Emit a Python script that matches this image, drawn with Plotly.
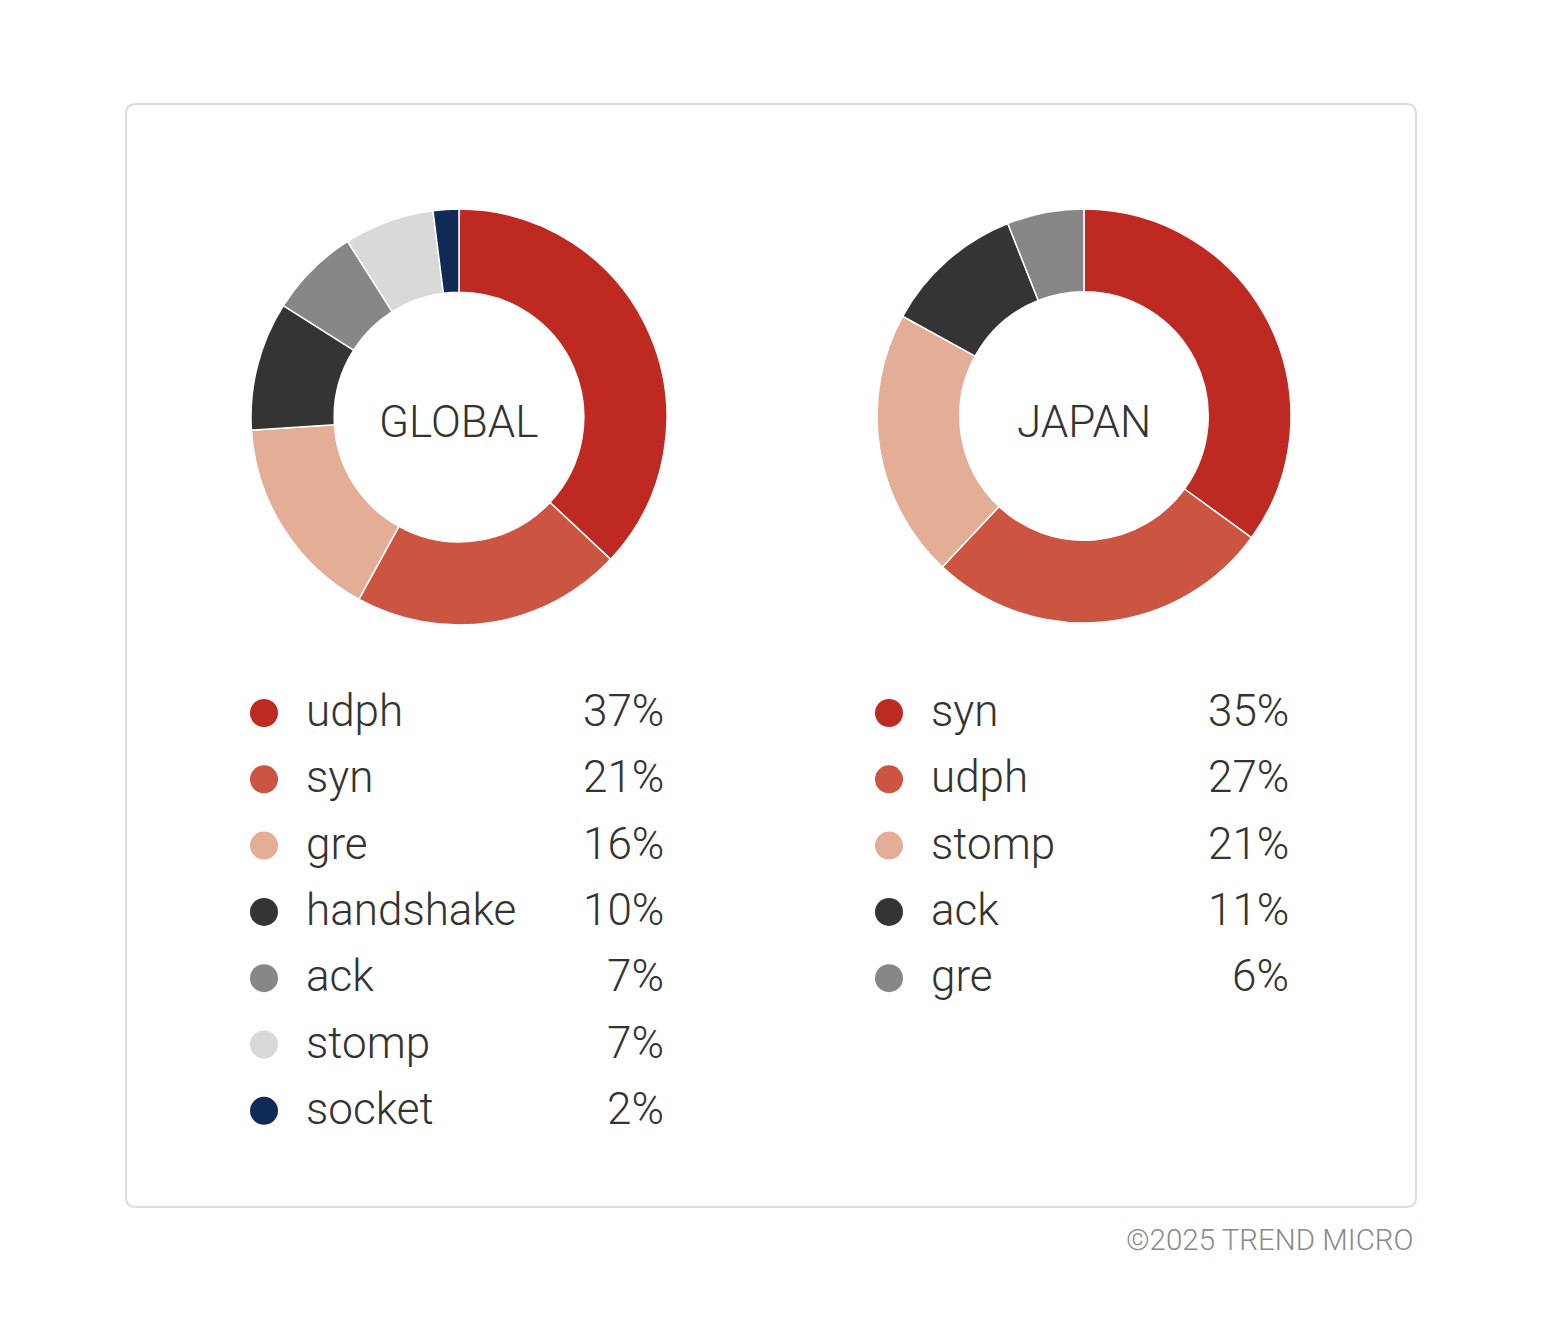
import plotly.graph_objects as go

# data
global_labels = ['udph', 'syn', 'gre', 'handshake', 'ack', 'stomp', 'socket']
global_values = [37, 21, 16, 10, 7, 7, 2]
global_colors = ['#BE2A22', '#CB5540', '#E3AD96', '#343434', '#878787', '#D9D9D9', '#0F2B55']

japan_labels = ['syn', 'udph', 'stomp', 'ack', 'gre']
japan_values = [35, 27, 21, 11, 6]
japan_colors = ['#BE2A22', '#CB5540', '#E3AD96', '#343434', '#878787']

W, H = 1543, 1334
OFF = 8  # default body margin of the html page
FONT = 'Roboto'
TXT = '#333333'

fig = go.Figure()


def px_domain(cx, cy, r):
    return dict(x=[(cx - r - OFF) / W, (cx + r - OFF) / W],
                y=[1 - (cy + r - OFF) / H, 1 - (cy - r - OFF) / H])


fig.add_trace(go.Pie(labels=global_labels, values=global_values, hole=0.6, sort=False,
                     direction='clockwise', rotation=0, textinfo='none', hoverinfo='skip',
                     marker=dict(colors=global_colors, line=dict(color='white', width=1.5)),
                     domain=px_domain(459, 417, 208), showlegend=False))
fig.add_trace(go.Pie(labels=japan_labels, values=japan_values, hole=0.6, sort=False,
                     direction='clockwise', rotation=0, textinfo='none', hoverinfo='skip',
                     marker=dict(colors=japan_colors, line=dict(color='white', width=1.5)),
                     domain=px_domain(1084, 416, 207), showlegend=False))

annotations = []


def add_legend(labels, values, colors, dot_x, label_x, pct_x):
    row_y = [713 + i * 66.3 for i in range(len(labels))]
    fig.add_trace(go.Scatter(x=[dot_x] * len(labels), y=row_y, mode='markers',
                             marker=dict(size=28, color=colors), hoverinfo='skip',
                             showlegend=False, xaxis='x', yaxis='y'))
    for lab, val, y in zip(labels, values, row_y):
        annotations.append(dict(x=label_x, y=y - 2, text=lab, xref='x', yref='y',
                                xanchor='left', yanchor='middle', showarrow=False,
                                font=dict(family=FONT, size=44, color=TXT, weight=300)))
        annotations.append(dict(x=pct_x, y=y - 2, text=f'{val}%', xref='x', yref='y',
                                xanchor='right', yanchor='middle', showarrow=False,
                                font=dict(family=FONT, size=44, color=TXT, weight=300)))


add_legend(global_labels, global_values, global_colors, 264, 304, 666)
add_legend(japan_labels, japan_values, japan_colors, 889, 929, 1291)

annotations.append(dict(x=458, y=422, text='GLOBAL', xref='x', yref='y', showarrow=False,
                        xanchor='center', yanchor='middle',
                        font=dict(family=FONT, size=44, color=TXT, weight=300)))
annotations.append(dict(x=1084, y=422, text='JAPAN', xref='x', yref='y', showarrow=False,
                        xanchor='center', yanchor='middle',
                        font=dict(family=FONT, size=44, color=TXT, weight=300)))
annotations.append(dict(x=1416, y=1240, text='©2025 TREND MICRO', xref='x', yref='y',
                        showarrow=False, xanchor='right', yanchor='middle',
                        font=dict(family=FONT, size=29.5, color='#8A8A8A', weight=300)))

# rounded frame
x0, x1, y0, y1, r = 126, 1416, 104, 1207, 10
frame = (f'M {x0 + r} {y0} L {x1 - r} {y0} Q {x1} {y0} {x1} {y0 + r} '
         f'L {x1} {y1 - r} Q {x1} {y1} {x1 - r} {y1} L {x0 + r} {y1} '
         f'Q {x0} {y1} {x0} {y1 - r} L {x0} {y0 + r} Q {x0} {y0} {x0 + r} {y0} Z')

fig.update_layout(
    width=W, height=H, margin=dict(l=0, r=0, t=0, b=0),
    paper_bgcolor='white', plot_bgcolor='rgba(0,0,0,0)',
    xaxis=dict(range=[OFF, W + OFF], visible=False, fixedrange=True),
    yaxis=dict(range=[H + OFF, OFF], visible=False, fixedrange=True),
    shapes=[dict(type='path', path=frame, xref='x', yref='y',
                 line=dict(color='#DDDDDD', width=2), layer='below')],
    annotations=annotations,
)

fig.write_html('out.html')
